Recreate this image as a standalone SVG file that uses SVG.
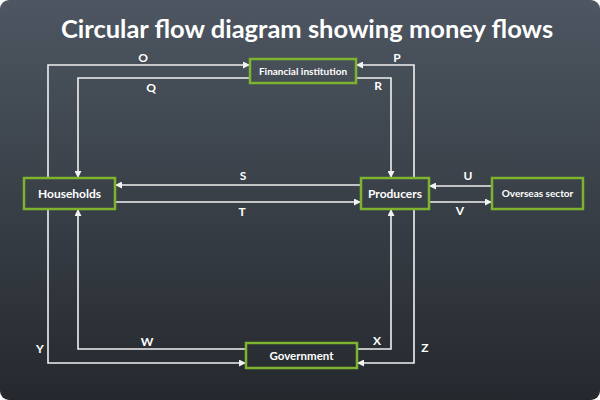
<svg xmlns="http://www.w3.org/2000/svg" width="600" height="400" viewBox="0 0 600 400">
<defs>
<linearGradient id="bg" x1="0" y1="0" x2="0" y2="1">
<stop offset="0" stop-color="#4d5661"/>
<stop offset="1" stop-color="#25292e"/>
</linearGradient>
<marker id="ah" viewBox="0 0 10 10" refX="10" refY="5" markerWidth="7" markerHeight="7" markerUnits="userSpaceOnUse" orient="auto">
<path d="M0,0 L10,5 L0,10 z" fill="#f2f2f2"/>
</marker>
<style>
.box{fill:none;stroke:#7db32f;stroke-width:2.5}
.lbl{font-family:Lato,"Open Sans","DejaVu Sans",sans-serif;font-weight:bold;fill:#ffffff;text-anchor:middle}
.c{fill:none;stroke:#f0f0f0;stroke-width:1.6}
.a{marker-end:url(#ah)}
.ltr{font-family:Lato,"Open Sans","DejaVu Sans",sans-serif;font-weight:bold;font-size:12px;fill:#ffffff;text-anchor:middle}
</style>
</defs>
<rect x="0" y="0" width="600" height="400" fill="#ffffff"/>
<rect x="0" y="0" width="600" height="400" rx="9" fill="url(#bg)"/>
<text x="307" y="38" class="lbl" font-size="25.5">Circular flow diagram showing money flows</text>
<g id="connectors">
<path class="c a" d="M48,178 V65 H250"/>
<path class="c a" d="M250,78 H78 V178"/>
<path class="c a" d="M414,178 V65 H356"/>
<path class="c a" d="M356,78 H391 V178"/>
<path class="c a" d="M361,185 H115"/>
<path class="c a" d="M115,202 H361"/>
<path class="c a" d="M492,186 H429"/>
<path class="c a" d="M429,202 H492"/>
<path class="c a" d="M246,349 H78 V209"/>
<path class="c a" d="M48,209 V363 H246"/>
<path class="c a" d="M357,349 H391 V209"/>
<path class="c a" d="M414,209 V363 H357"/>
<text class="ltr" x="143" y="62">O</text>
<text class="ltr" x="397" y="62">P</text>
<text class="ltr" x="151" y="92">Q</text>
<text class="ltr" x="378" y="90">R</text>
<text class="ltr" x="243" y="180">S</text>
<text class="ltr" x="242" y="216">T</text>
<text class="ltr" x="468" y="180">U</text>
<text class="ltr" x="460" y="215">V</text>
<text class="ltr" x="147" y="346">W</text>
<text class="ltr" x="377" y="345">X</text>
<text class="ltr" x="40" y="353">Y</text>
<text class="ltr" x="425" y="352">Z</text>
</g>
<g id="financial">
<rect class="box" x="250" y="59" width="106" height="24"/>
<text class="lbl" x="303" y="75" font-size="10">Financial institution</text>
</g>
<g id="households">
<rect class="box" x="24" y="178" width="91" height="31"/>
<text class="lbl" x="69.5" y="198" font-size="12">Households</text>
</g>
<g id="producers">
<rect class="box" x="361" y="178" width="68" height="31"/>
<text class="lbl" x="395" y="198" font-size="12">Producers</text>
</g>
<g id="overseas">
<rect class="box" x="492" y="178" width="91" height="31"/>
<text class="lbl" x="537.5" y="197" font-size="10">Overseas sector</text>
</g>
<g id="government">
<rect class="box" x="246" y="343" width="111" height="25"/>
<text class="lbl" x="301.5" y="360" font-size="11.5">Government</text>
</g>
</svg>
